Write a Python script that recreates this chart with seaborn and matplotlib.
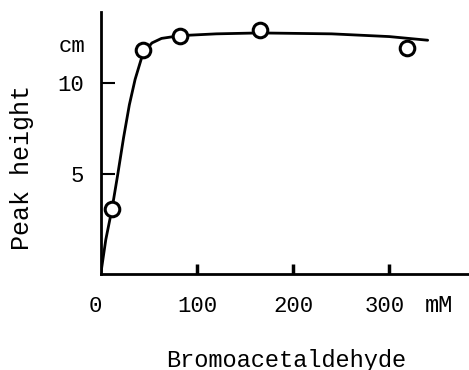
import matplotlib
matplotlib.use("Agg")
import matplotlib.pyplot as plt
import matplotlib.transforms as mtransforms
import seaborn as sns
import pandas as pd

# Data
conc_points = [11.5, 43.5, 82, 165, 318]        # mM
height_points = [3.1, 11.8, 12.6, 12.9, 11.9]   # cm

curve_x = [0, 5, 11.5, 17.5, 23.5, 29.5, 35.5, 43.5, 53, 63, 82, 120, 165, 240, 300, 340]
curve_y = [-0.4, 1.4, 3.1, 5.0, 7.0, 8.8, 10.2, 11.6, 12.2, 12.45, 12.6, 12.7, 12.75, 12.7, 12.55, 12.35]

xtick_vals = [0, 100, 200, 300]
xtick_labels = ["0", "100", "200", "300"]
ytick_vals = [5, 10]
ytick_labels = ["5", "10"]

sns.set_theme(style="white")
plt.rcParams["font.family"] = ["Liberation Mono", "DejaVu Sans Mono"]
plt.rcParams["text.color"] = "black"
plt.rcParams["xtick.color"] = "black"
plt.rcParams["ytick.color"] = "black"

fig = plt.figure(figsize=(4.69, 3.70), dpi=100)
ax = fig.add_axes([101 / 469, 1 - 274 / 370, 1 - 101 / 469, (274 - 12) / 370])

pts = pd.DataFrame({"x": conc_points, "y": height_points})
crv = pd.DataFrame({"x": curve_x, "y": curve_y})

sns.lineplot(data=crv, x="x", y="y", sort=False, color="black", linewidth=2.0, ax=ax, zorder=2)
sns.scatterplot(data=pts, x="x", y="y", marker="o", s=110, facecolor="white",
                edgecolor="black", linewidth=2.2, ax=ax, zorder=3)

ax.set_xlim(0, 383)
ax.set_ylim(-0.49, 13.9)

for side in ["top", "right"]:
    ax.spines[side].set_visible(False)
for side in ["left", "bottom"]:
    ax.spines[side].set_color("black")
    ax.spines[side].set_linewidth(2.0)

ax.set_xticks(xtick_vals)
ax.set_xticklabels(xtick_labels, fontsize=16)
ax.set_yticks(ytick_vals)
ax.set_yticklabels(ytick_labels, fontsize=16)
ax.tick_params(axis="x", bottom=True, direction="in", length=7, width=2.5, colors="black", pad=16)
ax.tick_params(axis="y", left=True, direction="in", length=10, width=1.5, colors="black", pad=12)
first = ax.xaxis.get_major_ticks()[0]
first.tick1line.set_visible(False)
first.label1.set_transform(first.label1.get_transform()
                           + mtransforms.ScaledTranslation(-6 / 100, 0, fig.dpi_scale_trans))
last = ax.xaxis.get_major_ticks()[-1]
last.label1.set_transform(last.label1.get_transform()
                          + mtransforms.ScaledTranslation(-5 / 100, 0, fig.dpi_scale_trans))
ax.set_xlabel("")
ax.set_ylabel("")

# unit labels
fig.text(439 / 469, 1 - 305 / 370, "mM", ha="center", va="center", fontsize=17)
ax.text(-16 / 368, 12.0, "cm", transform=mtransforms.blended_transform_factory(ax.transAxes, ax.transData),
        ha="right", va="center", fontsize=16)

fig.text(22 / 469, 1 - 167 / 370, "Peak height", rotation=90, ha="center", va="center", fontsize=18)
fig.text(286 / 469, 1 - 360 / 370, "Bromoacetaldehyde", ha="center", va="center", fontsize=17)

fig.savefig("out.png", dpi=100)
